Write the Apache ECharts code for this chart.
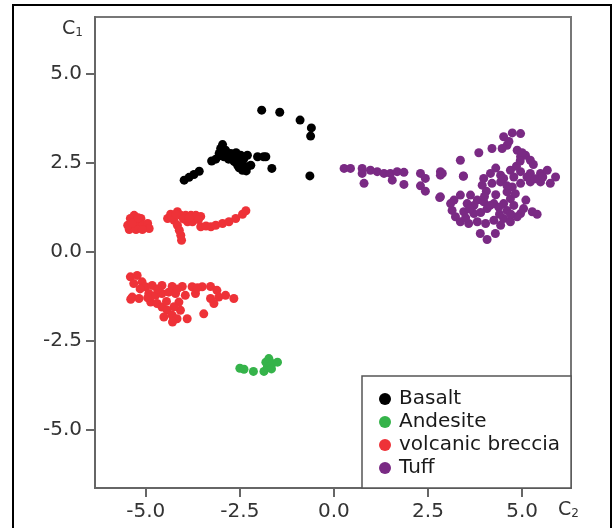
<!DOCTYPE html>
<html>
<head>
<meta charset="utf-8">
<script src="https://cdn.jsdelivr.net/npm/echarts@6/dist/echarts.min.js"></script>
<style>
html,body{margin:0;padding:0;background:#fff;}
#chart{width:612px;height:528px;}
</style>
</head>
<body>
<div id="chart"></div>
<script>
var seriesNames = ['Basalt', 'Andesite', 'volcanic breccia', 'Tuff'];
var seriesColors = ['#000000', '#35b34a', '#ee3238', '#7a2a84'];
var tickValues = [-5, -2.5, 0, 2.5, 5];

var basalt = [
  [-1.92,3.98],[-1.44,3.92],[-0.90,3.70],[-0.60,3.48],[-0.62,3.25],[-0.64,2.13],
  [-1.65,2.34],[-1.87,2.67],[-2.03,2.67],[-1.81,2.67],[-3.98,2.01],[-3.85,2.09],
  [-3.72,2.17],[-3.58,2.26],[-3.25,2.55],[-3.14,2.60],[-2.96,3.01],[-3.01,2.90],
  [-3.05,2.76],[-2.88,2.85],[-2.74,2.76],[-2.65,2.67],[-2.56,2.57],[-2.48,2.48],
  [-2.39,2.34],[-2.30,2.39],[-2.21,2.43],[-2.30,2.71],[-2.48,2.71],[-2.56,2.43],
  [-2.43,2.29],[-2.33,2.27],[-2.65,2.53],[-2.92,2.67],[-3.00,2.70],[-2.80,2.60],
  [-2.95,2.80],[-2.70,2.62],[-2.52,2.36],[-2.40,2.60],[-2.60,2.78],[-2.85,2.72]
];
var andesite = [
  [-2.50,-3.28],[-2.39,-3.31],[-2.14,-3.37],[-1.86,-3.37],[-1.77,-3.25],
  [-1.81,-3.11],[-1.73,-3.01],[-1.64,-3.15],[-1.50,-3.11],[-1.66,-3.30]
];
var breccia = [
  [-5.44,0.62],[-5.48,0.74],[-5.41,0.93],[-5.31,1.02],[-5.26,0.84],[-5.13,0.93],
  [-5.09,0.74],[-4.95,0.79],[-4.91,0.65],[-5.26,0.62],[-5.09,0.62],[-5.36,0.80],
  [-5.20,0.95],[-4.42,0.93],[-4.34,1.05],[-4.16,1.12],[-4.07,1.02],[-4.25,0.88],
  [-4.16,0.74],[-4.11,0.60],[-4.07,0.46],[-4.05,0.32],[-3.94,1.02],[-3.80,1.02],
  [-3.67,1.02],[-3.54,0.99],[-3.89,0.84],[-3.76,0.84],[-3.54,0.70],[-3.27,0.70],
  [-3.14,0.74],[-2.96,0.79],[-2.79,0.84],[-2.61,0.93],[-2.43,1.05],[-2.34,1.15],
  [-4.30,0.98],[-4.00,0.92],[-3.85,0.95],[-4.20,1.05],[-3.60,0.90],[-3.40,0.72],
  [-5.41,-0.71],[-5.23,-0.67],[-5.32,-0.90],[-5.10,-0.85],[-5.01,-0.99],[-4.83,-0.95],
  [-4.57,-0.95],[-4.30,-0.98],[-4.03,-0.98],[-3.77,-0.99],[-3.50,-0.99],[-3.28,-0.98],
  [-3.11,-1.09],[-3.06,-1.28],[-2.88,-1.23],[-2.66,-1.32],[-3.19,-1.46],[-3.28,-1.32],
  [-4.92,-1.18],[-4.74,-1.23],[-4.57,-1.18],[-4.39,-1.14],[-4.21,-1.18],[-4.87,-1.42],
  [-4.70,-1.46],[-4.57,-1.56],[-4.43,-1.65],[-4.30,-1.79],[-4.17,-1.89],[-4.08,-1.65],
  [-4.12,-1.42],[-4.52,-1.84],[-5.36,-1.28],[-5.18,-1.32],[-3.90,-1.89],[-3.46,-1.75],
  [-3.95,-1.23],[-3.68,-1.18],[-5.40,-1.34],[-4.29,-1.98],[-4.69,-1.05],[-4.95,-1.30],
  [-4.45,-1.40],[-4.25,-1.55],[-3.63,-1.02],[-4.16,-1.05],[-5.15,-1.05]
];
var tuff = [
  [0.27,2.34],[0.44,2.34],[0.75,2.34],[0.75,2.20],[0.97,2.29],[1.15,2.25],[1.33,2.20],
  [1.50,2.20],[1.68,2.25],[1.86,2.23],[1.55,2.01],[0.80,1.92],[1.86,1.89],[2.30,2.20],
  [2.43,2.06],[2.30,1.85],[2.43,1.70],[2.83,2.25],[2.83,2.15],[2.81,1.52],[3.44,2.13],
  [4.51,3.23],[4.74,3.34],[4.96,3.32],[4.60,2.99],[4.47,2.90],[4.87,2.85],[5.09,2.71],
  [5.22,2.57],[4.96,2.67],[4.65,3.10],[5.00,2.78],
  [3.98,2.06],[4.16,2.20],[4.43,2.15],[4.69,2.29],[4.96,2.25],[5.22,2.20],[5.49,2.20],
  [5.67,2.29],[5.89,2.10],[5.75,1.92],[5.49,1.96],[5.22,1.96],[4.96,1.92],[4.74,1.82],
  [4.60,1.68],[4.43,1.96],[4.20,1.92],[3.94,1.87],[4.78,2.10],[5.13,2.10],[4.51,2.06],
  [4.30,2.35],[4.85,2.40],[5.35,2.05],[4.05,1.70],
  [3.19,1.45],[3.36,1.59],[3.63,1.59],[3.81,1.45],[3.98,1.40],[4.25,1.35],[4.51,1.35],
  [4.69,1.49],[4.78,1.30],[5.04,1.21],[5.27,1.12],[5.40,1.05],[4.96,1.07],[4.60,1.16],
  [4.07,1.21],[3.72,1.30],[3.54,1.35],[4.82,1.63],[4.38,1.25],[4.15,1.30],
  [3.10,1.35],[3.14,1.16],[3.23,0.98],[3.36,0.84],[3.58,0.79],[3.81,0.84],[4.03,0.79],
  [4.25,0.88],[4.51,0.93],[4.43,0.74],[4.69,0.84],[4.87,0.98],[3.89,0.51],[4.07,0.34],
  [4.29,0.51],[3.72,1.07],[3.45,1.12],
  [4.20,2.90],[3.85,2.78],[3.36,2.57],[3.44,2.12],[2.88,2.20],[2.83,1.54],
  [4.30,1.60],[4.00,1.55],[4.60,1.85],[5.10,1.45],[3.90,1.10],[4.40,1.05],[3.50,0.95],
  [4.95,2.55],[5.30,2.45],[4.70,1.05],[3.60,1.20],[5.55,2.10]
];
var seriesData = [basalt, andesite, breccia, tuff];

var fontFam = 'DejaVu Sans';
var chart = echarts.init(document.getElementById('chart'), null, {renderer: 'canvas'});

function fmt(v) { return v.toFixed(1); }

var option = {
  backgroundColor: '#ffffff',
  animation: false,
  graphic: [{
    type: 'rect',
    shape: {x: 13, y: 5, width: 598, height: 560},
    style: {fill: 'none', stroke: '#000', lineWidth: 2},
    silent: true
  }],
  grid: {
    left: 95, top: 17, right: 41, bottom: 40,
    show: true, borderColor: '#777', borderWidth: 2, backgroundColor: 'transparent'
  },
  legend: {
    orient: 'vertical',
    left: 362, top: 376,
    padding: [13, 11, 10, 17],
    itemGap: 3,
    itemWidth: 12, itemHeight: 12,
    icon: 'circle',
    backgroundColor: '#fff',
    borderColor: '#555', borderWidth: 1.5,
    textStyle: {fontFamily: fontFam, fontSize: 20, color: '#1a1a1a', lineHeight: 20, padding: [0, 0, 0, 3]},
    data: seriesNames
  },
  xAxis: {
    type: 'value',
    min: -6.35, max: 6.3,
    name: '{c|C}{s|2}',
    nameLocation: 'end',
    nameGap: -13,
    nameTextStyle: {
      align: 'left', verticalAlign: 'top', padding: [13, 0, 0, 0],
      rich: {
        c: {fontFamily: fontFam, fontSize: 19, color: '#333'},
        s: {fontFamily: fontFam, fontSize: 12, color: '#333', verticalAlign: 'bottom'}
      }
    },
    axisLine: {show: true, onZero: false, lineStyle: {color: '#666', width: 2}},
    axisTick: {show: true, inside: false, length: 9, customValues: tickValues, lineStyle: {color: '#666', width: 2}},
    axisLabel: {customValues: tickValues, margin: 14, formatter: fmt, fontFamily: fontFam, fontSize: 20, color: '#333'},
    splitLine: {show: false}
  },
  yAxis: {
    type: 'value',
    min: -6.65, max: 6.6,
    name: '{c|C}{s|1}',
    nameLocation: 'end',
    nameGap: -3,
    nameTextStyle: {
      align: 'right', verticalAlign: 'top', padding: [0, 12, 0, 0],
      rich: {
        c: {fontFamily: fontFam, fontSize: 19, color: '#333'},
        s: {fontFamily: fontFam, fontSize: 12, color: '#333', verticalAlign: 'bottom'}
      }
    },
    axisLine: {show: true, onZero: false, lineStyle: {color: '#666', width: 2}},
    axisTick: {show: true, inside: false, length: 9, customValues: tickValues, lineStyle: {color: '#666', width: 2}},
    axisLabel: {customValues: tickValues, margin: 13, formatter: fmt, fontFamily: fontFam, fontSize: 20, color: '#333'},
    splitLine: {show: false}
  },
  series: seriesNames.map(function (n, i) {
    return {
      name: n,
      type: 'scatter',
      symbol: 'circle',
      symbolSize: 9,
      itemStyle: {color: seriesColors[i], opacity: 1},
      data: seriesData[i]
    };
  })
};
chart.setOption(option);
</script>
</body>
</html>
